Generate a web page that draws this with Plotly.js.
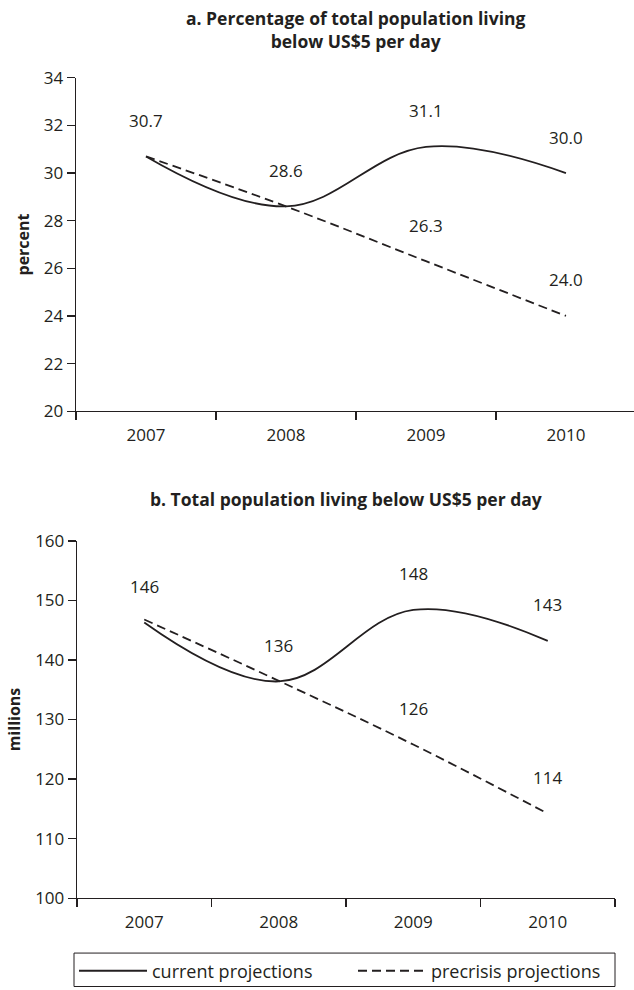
<!DOCTYPE html>
<html><head><meta charset="utf-8">
<script src="https://cdn.plot.ly/plotly-3.0.1.min.js"></script>
<style>html,body{margin:0;padding:0;background:#fff}</style>
</head><body><div id="chart" style="width:634px;height:990px"></div>
<script>
const years = ['2007', '2008', '2009', '2010'];
const pctCurrent = [30.7, 28.6, 31.1, 30.0];
const pctPrecrisis = [30.7, 28.6, 26.3, 24.0];
const pctCurrentLabels = ['30.7', '28.6', '31.1', '30.0'];
const pctPrecrisisLabels = ['', '', '26.3', '24.0'];
const milCurrent = [146.3, 136.4, 148.4, 143.2];
const milPrecrisis = [146.8, 136.5, 125.8, 114.2];
const milCurrentLabels = ['146', '136', '148', '143'];
const milPrecrisisLabels = ['', '', '126', '114'];
const pctTicks = [20, 22, 24, 26, 28, 30, 32, 34];
const milTicks = [100, 110, 120, 130, 140, 150, 160];
const titleA = ['a. Percentage of total population living', 'below US$5 per day'];
const titleB = 'b. Total population living below US$5 per day';
const seriesNames = ['current projections', 'precrisis projections'];

const INK = '#231f20';
const FONT = '"Open Sans", "Noto Sans", sans-serif';
const FS = 17;
const DASH = '9px,5px';

function line(x, y, xa, ya, name, dash, show, lg) {
  return {
    x: x, y: y, xaxis: xa, yaxis: ya, name: name, type: 'scatter', mode: 'lines',
    line: {color: INK, width: 1.8, dash: dash, shape: 'spline', smoothing: 1.1},
    showlegend: show, legend: lg, hoverinfo: 'skip'
  };
}

const data = [
  line(years, pctCurrent, 'x', 'y', seriesNames[0], 'solid', true, 'legend'),
  line(years, pctPrecrisis, 'x', 'y', seriesNames[1], DASH, true, 'legend2'),
  line(years, milCurrent, 'x2', 'y2', seriesNames[0], 'solid', false, 'legend'),
  line(years, milPrecrisis, 'x2', 'y2', seriesNames[1], DASH, false, 'legend2')
];

const annotations = [];
function labels(vals, texts, xr, yr) {
  vals.forEach((v, i) => {
    if (!texts[i]) return;
    annotations.push({x: i, y: v, xref: xr, yref: yr, text: texts[i],
      showarrow: false, yshift: 36, font: {family: FONT, size: FS, color: INK}});
  });
}
labels(pctCurrent, pctCurrentLabels, 'x', 'y');
labels(pctPrecrisis, pctPrecrisisLabels, 'x', 'y');
labels(milCurrent, milCurrentLabels, 'x2', 'y2');
labels(milPrecrisis, milPrecrisisLabels, 'x2', 'y2');

annotations.push({text: titleA.map(t => '<b>' + t + '</b>').join('<br>'), xref: 'paper', yref: 'paper',
  x: 356 / 634, y: 1 - 30 / 990, xanchor: 'center', yanchor: 'middle', showarrow: false,
  font: {family: FONT, size: 17.5, color: INK}, align: 'center'});
annotations.push({text: '<b>' + titleB + '</b>', xref: 'paper', yref: 'paper',
  x: 346 / 634, y: 1 - 500 / 990, xanchor: 'center', yanchor: 'middle', showarrow: false,
  font: {family: FONT, size: 17.5, color: INK}});

const xBase = {type: 'category', showline: true, linecolor: INK, linewidth: 1.3, ticks: 'outside', tickson: 'boundaries',
  ticklen: 8, tickcolor: INK, tickwidth: 1.3, showgrid: false, zeroline: false, ticklabelstandoff: 8,
  tickfont: {family: FONT, size: FS, color: INK}, fixedrange: true};
const yBase = {showline: true, linecolor: INK, linewidth: 1.3, ticks: 'outside', ticklen: 8, tickcolor: INK, tickwidth: 1.3,
  showgrid: false, zeroline: false, tickfont: {family: FONT, size: FS, color: INK}, fixedrange: true};

const legendBase = {orientation: 'h', xanchor: 'left', y: 1 - 973 / 990, yanchor: 'middle',
  borderwidth: 0, bgcolor: 'rgba(0,0,0,0)', font: {family: FONT, size: 18, color: INK}, itemwidth: 68};

const layout = {
  width: 634, height: 990, margin: {l: 0, r: 0, t: 0, b: 0},
  paper_bgcolor: '#fff', plot_bgcolor: 'rgba(0,0,0,0)',
  font: {family: FONT, color: INK},
  xaxis: Object.assign({}, xBase, {domain: [76 / 634, 1], range: [-0.5, 3.486], anchor: 'y'}),
  yaxis: Object.assign({}, yBase, {domain: [(990 - 412) / 990, (990 - 78) / 990], range: [20, 34], tickvals: pctTicks, anchor: 'x',
    title: {text: '<b>percent</b>', font: {family: FONT, size: 16, color: INK}, standoff: 10}}),
  xaxis2: Object.assign({}, xBase, {domain: [77 / 634, 615 / 634], range: [-0.5, 3.5], anchor: 'y2'}),
  yaxis2: Object.assign({}, yBase, {domain: [90 / 990, (990 - 542) / 990], range: [100, 160], tickvals: milTicks, anchor: 'x2',
    title: {text: '<b>millions</b>', font: {family: FONT, size: 16, color: INK}, standoff: 10}}),
  showlegend: true,
  legend: Object.assign({}, legendBase, {x: 74 / 634}),
  legend2: Object.assign({}, legendBase, {x: 353 / 634}),
  shapes: [{type: 'rect', xref: 'paper', yref: 'paper', x0: 74 / 634, x1: 615 / 634, y0: 1.5 / 990, y1: 1 - 955 / 990,
    line: {color: INK, width: 1}, fillcolor: 'rgba(0,0,0,0)'}],
  annotations: annotations
};

Plotly.newPlot('chart', data, layout, {staticPlot: true, displayModeBar: false});
</script></body></html>
